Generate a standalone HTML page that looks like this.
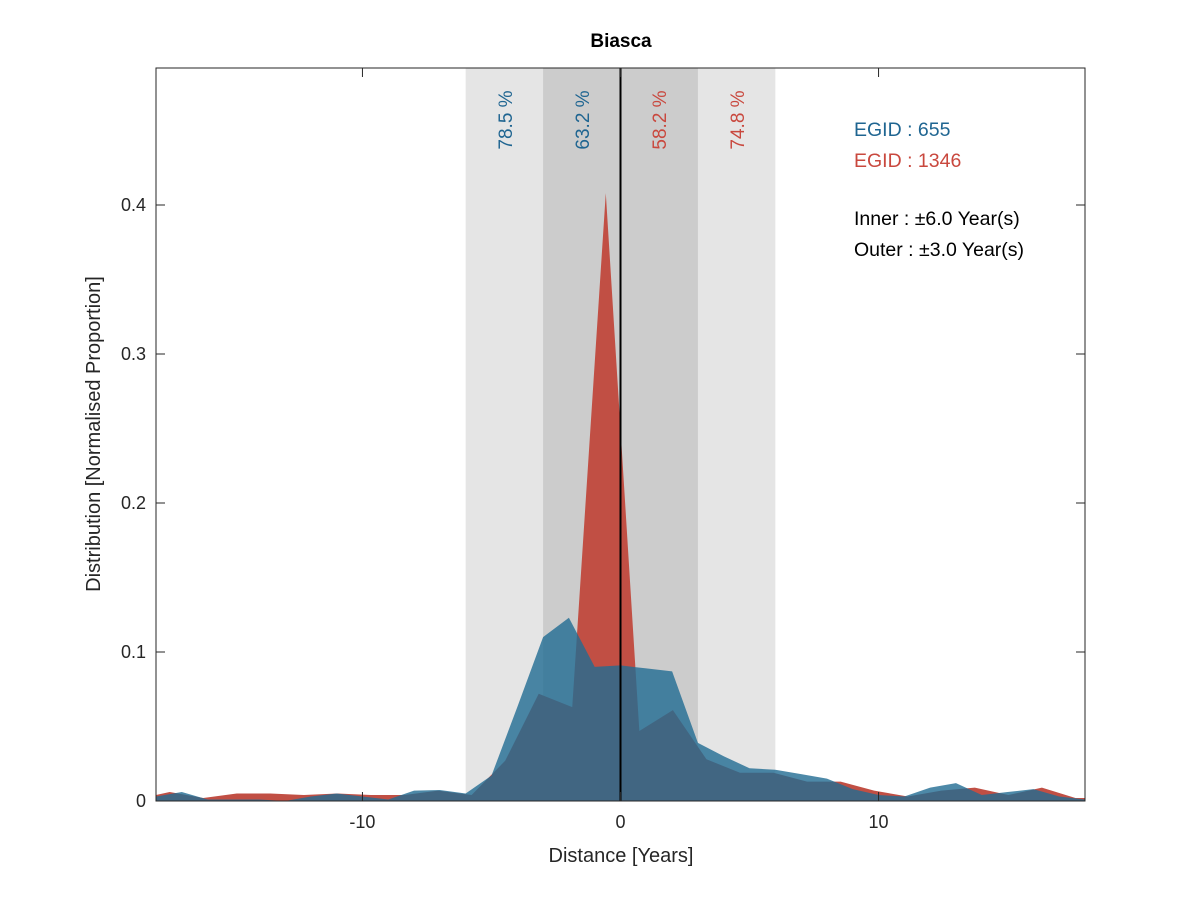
<!DOCTYPE html>
<html><head><meta charset="utf-8"><style>
body{margin:0;background:#fff;}
text{font-family:"Liberation Sans",sans-serif;}
</style></head><body>
<svg id="chart" width="1200" height="900" xmlns="http://www.w3.org/2000/svg">
<rect width="1200" height="900" fill="#fff"/>
<g id="bands"></g>
<g id="series"></g>
<g id="axes"></g>
<text x="621" y="47" text-anchor="middle" font-size="19" font-weight="bold" fill="#000">Biasca</text>
<text x="621" y="862" text-anchor="middle" font-size="20" fill="#262626">Distance [Years]</text>
<text transform="translate(100,434) rotate(-90)" text-anchor="middle" font-size="20" fill="#262626">Distribution [Normalised Proportion]</text>
<text transform="translate(512,120) rotate(-90)" text-anchor="middle" font-size="19" fill="#1f6591">78.5 %</text>
<text transform="translate(589,120) rotate(-90)" text-anchor="middle" font-size="19" fill="#1f6591">63.2 %</text>
<text transform="translate(666,120) rotate(-90)" text-anchor="middle" font-size="19" fill="#c9483e">58.2 %</text>
<text transform="translate(744,120) rotate(-90)" text-anchor="middle" font-size="19" fill="#c9483e">74.8 %</text>
<text x="854" y="136" font-size="19.5" fill="#1f6591">EGID : 655</text>
<text x="854" y="167" font-size="19.5" fill="#c9483e">EGID : 1346</text>
<text x="854" y="225" font-size="19.5" fill="#000">Inner : ±6.0 Year(s)</text>
<text x="854" y="256" font-size="19.5" fill="#000">Outer : ±3.0 Year(s)</text>
</svg>
<script>
const blueX=[-18,-17,-16,-15,-14,-13,-12,-11,-10,-9,-8,-7,-6,-5,-4,-3,-2,-1,0,1,2,3,4,5,6,7,8,9,10,11,12,13,14,15,16,17,18];
const blueY=[0.003,0.006,0.001,0.001,0.001,0.0,0.003,0.005,0.003,0.001,0.007,0.0074,0.005,0.017,0.063,0.110,0.123,0.090,0.091,0.089,0.087,0.039,0.030,0.022,0.021,0.018,0.015,0.008,0.004,0.003,0.009,0.012,0.004,0.006,0.008,0.003,0.001];
const redX=[-18,-17.47,-16.17,-14.87,-13.57,-12.27,-10.97,-9.67,-8.37,-7.07,-5.77,-4.47,-3.17,-1.87,-0.57,0.73,2.03,3.33,4.63,5.93,7.23,8.53,9.83,11.13,12.43,13.73,15.03,16.33,17.63,18];
const redY=[0.004,0.006,0.002,0.005,0.005,0.004,0.005,0.004,0.004,0.007,0.004,0.027,0.072,0.063,0.408,0.047,0.061,0.028,0.019,0.019,0.013,0.013,0.007,0.003,0.007,0.009,0.004,0.009,0.002,0.002];
const yTicks=[0,0.1,0.2,0.3,0.4];
const yTickLabels=["0","0.1","0.2","0.3","0.4"];
const xTicks=[-10,0,10];
const xTickLabels=["-10","0","10"];
const outerWin=[-6,6], innerWin=[-3,3];
const L=156,R=1085,T=68,B=801,xmin=-18,xmax=18,ymax=(801-68)/1490;
const sx=v=>L+(v-xmin)/(xmax-xmin)*(R-L);
const sy=v=>B-v/ymax*(B-T);
const NS="http://www.w3.org/2000/svg";
function mk(tag,attrs,parent){const e=document.createElementNS(NS,tag);for(const k in attrs)e.setAttribute(k,attrs[k]);parent.appendChild(e);return e;}
const bands=document.getElementById('bands'),series=document.getElementById('series'),axes=document.getElementById('axes');
let r1=mk('rect',{x:sx(outerWin[0]),y:T,width:sx(outerWin[1])-sx(outerWin[0]),height:B-T,fill:'#e5e5e5'},bands);


let r2=mk('rect',{x:sx(innerWin[0]),y:T,width:sx(innerWin[1])-sx(innerWin[0]),height:B-T,fill:'#cccccc'},bands);


function area(xs,ys){let d='M'+sx(xs[0])+','+sy(0);for(let i=0;i<xs.length;i++)d+=' L'+sx(xs[i])+','+sy(ys[i]);d+=' L'+sx(xs[xs.length-1])+','+sy(0)+'Z';return d;}
let pr=mk('path',{d:area(redX,redY),fill:'#c14f44'},series);


let pb=mk('path',{d:area(blueX,blueY),fill:'rgb(32,108,146)','fill-opacity':0.8},series);


let zl=mk('line',{x1:sx(0),x2:sx(0),y1:T,y2:B,stroke:'#000','stroke-width':2},series);


let fr=mk('rect',{x:L,y:T,width:R-L,height:B-T,fill:'none',stroke:'#262626','stroke-width':1},axes);


yTicks.forEach((v,i)=>{const y=sy(v);
mk('line',{x1:L,x2:L+9,y1:y,y2:y,stroke:'#262626'},axes);
mk('line',{x1:R,x2:R-9,y1:y,y2:y,stroke:'#262626'},axes);
const t=mk('text',{x:L-10,y:y+6,'text-anchor':'end','font-size':18,fill:'#262626'},axes);t.textContent=yTickLabels[i];

});
xTicks.forEach((v,i)=>{const x=sx(v);
mk('line',{x1:x,x2:x,y1:B,y2:B-9,stroke:'#262626'},axes);
mk('line',{x1:x,x2:x,y1:T,y2:T+9,stroke:'#262626'},axes);
const t=mk('text',{x:x,y:B+27,'text-anchor':'middle','font-size':18,fill:'#262626'},axes);t.textContent=xTickLabels[i];

});
</script>
</body></html>
